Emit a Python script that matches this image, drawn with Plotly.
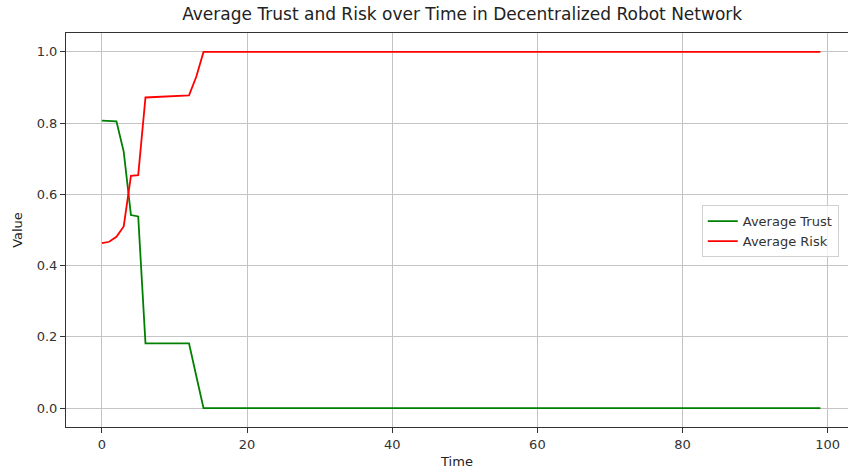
import plotly.graph_objects as go

time = list(range(100))

trust_head = [0.807, 0.807, 0.805, 0.72, 0.542, 0.538, 0.182, 0.182, 0.182,
              0.182, 0.182, 0.182, 0.182, 0.09, 0.0]
trust_tail = [0.0] * 85
trust = trust_head + trust_tail

risk_head = [0.463, 0.467, 0.481, 0.51, 0.652, 0.654, 0.872, 0.873, 0.874,
             0.875, 0.876, 0.877, 0.878, 0.93, 1.0]
risk_tail = [1.0] * 85
risk = risk_head + risk_tail

x_ticks = [0, 20, 40, 60, 80, 100]
y_ticks = [0.0, 0.2, 0.4, 0.6, 0.8, 1.0]
y_tick_labels = ["0.0", "0.2", "0.4", "0.6", "0.8", "1.0"]

fig = go.Figure()
fig.add_trace(go.Scatter(x=time, y=trust, mode="lines", name="Average Trust",
                         line=dict(color="green", width=1.8)))
fig.add_trace(go.Scatter(x=time, y=risk, mode="lines", name="Average Risk",
                         line=dict(color="red", width=1.8)))

axis_common = dict(
    showgrid=True, gridcolor="#c4c4c4", gridwidth=1,
    showline=True, linecolor="#333333", linewidth=1,
    ticks="outside", ticklen=5, tickcolor="#333333",
    tickfont=dict(family="DejaVu Sans", size=13, color="#333333"),
    zeroline=False, automargin=False,
)

fig.update_layout(
    width=848, height=470,
    margin=dict(l=66, r=0, t=33, b=43),
    paper_bgcolor="white", plot_bgcolor="white",
    font=dict(family="DejaVu Sans", color="#222222"),
    title=dict(text="Average Trust and Risk over Time in Decentralized Robot Network",
               x=0.545, xanchor="center", y=0.970, yanchor="middle",
               font=dict(size=17, family="DejaVu Sans", color="#222222")),
    xaxis=dict(range=[-4.95, 102.8], tickvals=x_ticks, mirror=True,
               title=dict(text="Time", font=dict(size=13), standoff=6),
               **axis_common),
    yaxis=dict(range=[-0.053, 1.053], tickvals=y_ticks, ticktext=y_tick_labels,
               title=dict(text="Value", font=dict(size=13), standoff=11),
               **axis_common),
    legend=dict(x=0.813, y=0.563, xanchor="left", yanchor="top",
                bgcolor="rgba(255,255,255,0.8)", bordercolor="#d0d0d0", borderwidth=1,
                font=dict(size=13, family="DejaVu Sans", color="#333333"),
                tracegroupgap=0, itemwidth=30),
    showlegend=True,
)

fig.write_html("out.html",
               config={"displayModeBar": False},
               post_script="document.body.style.margin='0';document.body.style.overflow='hidden';")
